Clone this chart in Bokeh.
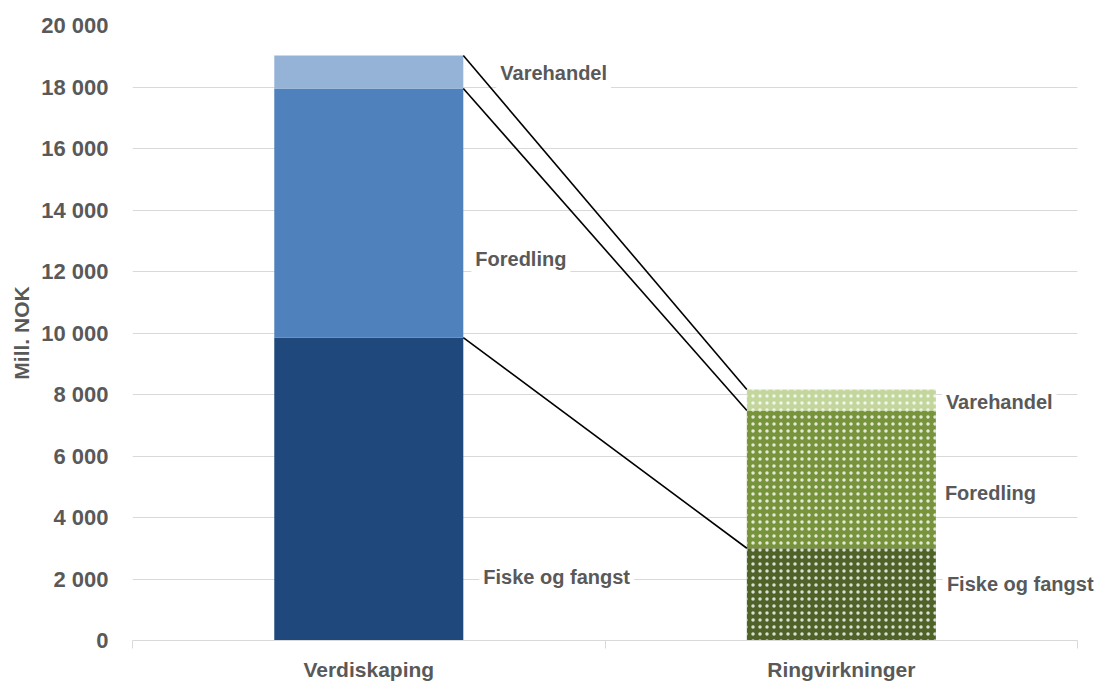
import numpy as np
from bokeh.plotting import figure
from bokeh.models import Range1d, FixedTicker, Label, ColumnDataSource
from bokeh.embed import file_html
from bokeh.resources import INLINE

# ---- data ----
categories = ["Verdiskaping", "Ringvirkninger"]
segments = ["Fiske og fangst", "Foredling", "Varehandel"]
verdiskaping = [9850, 8100, 1075]
ringvirkninger = [3000, 4480, 680]
y_ticks = [0, 2000, 4000, 6000, 8000, 10000, 12000, 14000, 16000, 18000, 20000]

# label anchor values (Mill. NOK) as placed in the original chart
label_y_left = [2050, 12420, 18440]
label_y_right = [1850, 4810, 7770]

# ---- styles ----
blue_colors = ["#1F497D", "#4F81BD", "#95B3D7"]
green_colors = ["#4F6228", "#77933C", "#C3D69B"]
label_dx_left = [16, 8, 33]     # px offsets of the labels from the bar edge
label_dx_right = [7, 5, 6]
text_color = "#595959"
grid_color = "#D9D9D9"
FONT = "Liberation Sans"
bar_width = 0.4
n_cat = len(categories)
x_pad = 0.042   # extra room right of the plot for the outside labels

p = figure(frame_width=965, frame_height=615, output_backend="svg", toolbar_location=None,
           x_range=Range1d(0, n_cat + x_pad), y_range=Range1d(0, 20000),
           min_border_left=132, min_border_top=25, min_border_right=1, min_border_bottom=40)
p.outline_line_color = None
p.background_fill_color = "white"

centers = [i + 0.5 for i in range(n_cat)]

# horizontal grid lines limited to the category area
p.xgrid.grid_line_color = None
try:
    p.ygrid.cross_bounds = (0, n_cat)
    p.ygrid.grid_line_color = grid_color
    p.ygrid.grid_line_width = 1.2
    p.ygrid.level = "underlay"
except Exception:
    p.ygrid.grid_line_color = None
    p.segment(x0=[0] * len(y_ticks), x1=[n_cat] * len(y_ticks), y0=y_ticks, y1=y_ticks,
              line_color=grid_color, line_width=1.2, level="underlay")

rows = {"x": [], "bottom": [], "top": [], "color": [], "hatch": []}
tops_all = []
for c, vals, cols, hatch in zip(centers, [verdiskaping, ringvirkninger],
                                [blue_colors, green_colors], ["blank", "dot"]):
    tops = np.cumsum(vals)
    bottoms = tops - np.array(vals)
    tops_all.append(tops)
    for b, t, col in zip(bottoms, tops, cols):
        rows["x"].append(c)
        rows["bottom"].append(float(b))
        rows["top"].append(float(t))
        rows["color"].append(col)
        rows["hatch"].append(hatch)

src = ColumnDataSource(rows)
p.vbar(x="x", bottom="bottom", top="top", width=bar_width, source=src,
       fill_color="color", line_color=None,
       hatch_pattern="hatch", hatch_color="white", hatch_scale=7, hatch_weight=0.7, hatch_alpha=0.8)

# connector lines between the stacks
x0 = centers[0] + bar_width / 2
x1 = centers[1] - bar_width / 2
p.segment(x0=[x0] * 3, y0=list(tops_all[0]), x1=[x1] * 3, y1=list(tops_all[1]),
          line_color="black", line_width=1.6)

# labels
for name, ly, dx in zip(segments, label_y_left, label_dx_left):
    p.add_layout(Label(x=x0, y=ly, x_offset=dx, text=name, text_font=FONT, text_font_style="bold",
                       text_font_size="20px", text_color=text_color, text_baseline="middle",
                       text_align="left", background_fill_color="white", padding=4))
for name, ly, dx in zip(segments, label_y_right, label_dx_right):
    p.add_layout(Label(x=centers[1] + bar_width / 2, y=ly, x_offset=dx, text=name, text_font=FONT,
                       text_font_style="bold", text_font_size="20px", text_color=text_color,
                       text_baseline="middle", text_align="left",
                       background_fill_color="white", padding=4))

# y axis
p.yaxis.ticker = FixedTicker(ticks=y_ticks)
p.yaxis.major_label_overrides = {t: f"{t:,}".replace(",", " ") for t in y_ticks}
p.yaxis.axis_label = "Mill. NOK"
p.yaxis.axis_label_text_font = FONT
p.yaxis.axis_label_text_font_style = "bold"
p.yaxis.axis_label_text_font_size = "21px"
p.yaxis.axis_label_text_color = text_color
p.yaxis.axis_label_standoff = 5
p.yaxis.major_label_text_font = FONT
p.yaxis.major_label_text_font_style = "bold"
p.yaxis.major_label_text_font_size = "22px"
p.yaxis.major_label_text_color = text_color
p.yaxis.major_label_standoff = 24
p.yaxis.axis_line_color = None
p.yaxis.major_tick_line_color = None
p.yaxis.major_tick_out = 0
p.yaxis.major_tick_in = 0
p.yaxis.minor_tick_line_color = None

# x axis
p.xaxis.ticker = FixedTicker(ticks=centers, minor_ticks=list(range(n_cat + 1)))
p.xaxis.bounds = (0, n_cat)
p.xaxis.major_label_overrides = {c: n for c, n in zip(centers, categories)}
p.xaxis.major_label_text_font = FONT
p.xaxis.major_label_text_font_style = "bold"
p.xaxis.major_label_text_font_size = "21px"
p.xaxis.major_label_text_color = text_color
p.xaxis.major_label_standoff = 9
p.xaxis.major_tick_line_color = None
p.xaxis.major_tick_out = 0
p.xaxis.major_tick_in = 0
p.xaxis.axis_line_color = grid_color
p.xaxis.axis_line_width = 1.2
p.xaxis.minor_tick_line_color = grid_color
p.xaxis.minor_tick_out = 8
p.xaxis.minor_tick_in = 0

open("out.html", "w").write(file_html(p, INLINE))
